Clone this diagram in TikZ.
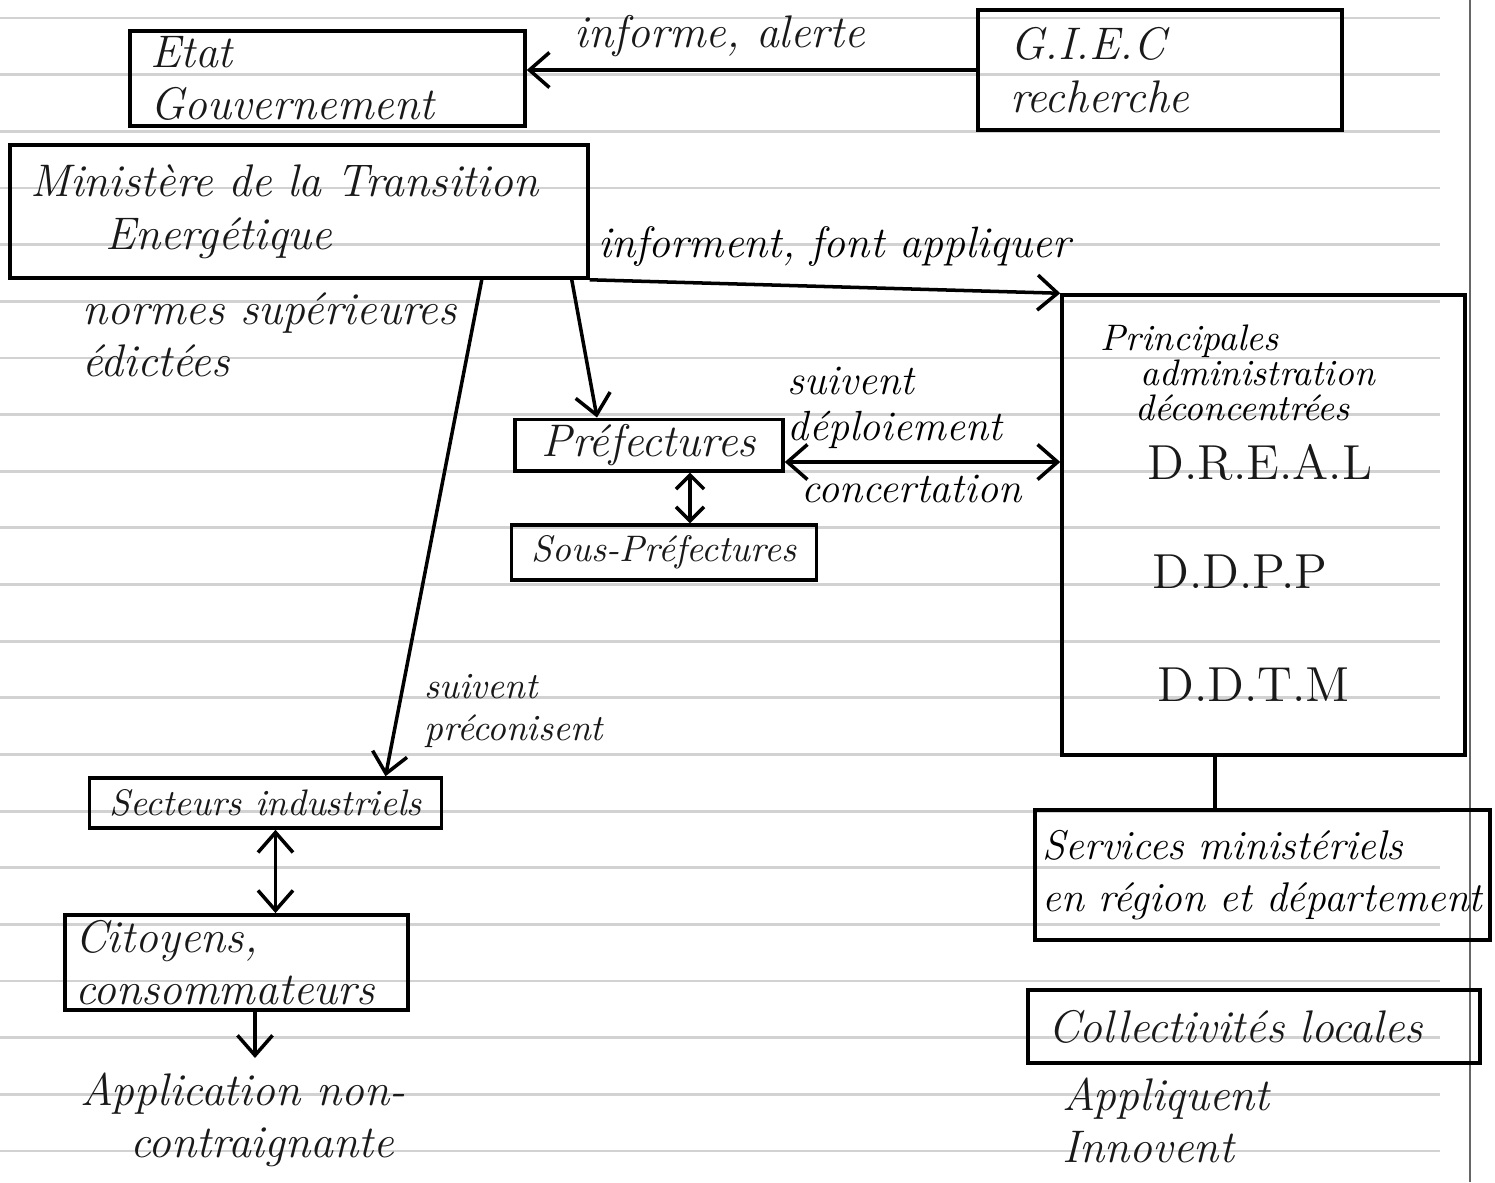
\documentclass[tikz,border=0pt]{standalone}
\usepackage{tikz}
\usetikzlibrary{arrows.meta,positioning}

\tikzset{
  box/.style={draw, line width=1pt, inner xsep=0.2cm, inner ysep=0.05cm, align=left},
  hand/.style={font=\itshape\fontsize{13}{15}\selectfont, text=black!90},
  small/.style={font=\itshape\fontsize{10.5}{12}\selectfont, text=black!90},
  big/.style={font=\fontsize{14}{16}\selectfont, text=black!90},
  arr/.style={line width=1pt, -{Straight Barb[length=2mm,width=3.5mm]}},
  darr/.style={line width=1pt, {Straight Barb[length=2mm,width=3.5mm]}-{Straight Barb[length=2mm,width=3.5mm]}},
  sdarr/.style={line width=1pt, {Straight Barb[length=1.4mm,width=2.8mm]}-{Straight Barb[length=1.4mm,width=2.8mm]}},
  plain/.style={line width=1pt},
  rule/.style={gray!35, line width=0.8pt}
}

\begin{document}
\begin{tikzpicture}
  \useasboundingbox (0,0) rectangle (14.95,-11.82);
  \fill[white] (0,0) rectangle (14.95,-11.82);
  % Ruled paper
  \foreach \k in {0,...,20} \draw[rule] (0,{-0.18-0.5665*\k}) -- (14.4,{-0.18-0.5665*\k});
  \draw[black!60, line width=0.5pt] (14.7,0) -- (14.7,-11.82);
  % Boxes
  \node[box, hand, text width=3.55cm, minimum height=0.93cm] (etat) at (3.275,-0.785) {Etat\\Gouvernement};
  \node[box, hand, text width=5.38cm, minimum height=1.33cm] (ministere) at (2.99,-2.115) {Ministère de la Transition\\\hspace*{0.75cm}Energétique};
  \node[box, hand, inner xsep=0.32cm, text width=3.0cm, minimum height=1.2cm] (giec) at (11.6,-0.70) {G.I.E.C\\recherche};
  \node[box, minimum width=4.03cm, minimum height=4.6cm] (deconc) at (12.635,-5.25) {};
  \node[box, hand, align=center, minimum width=2.68cm, minimum height=0.46cm] (pref) at (6.49,-4.45) {Préfectures};
  \node[box, small, align=center, minimum width=2.88cm, minimum height=0.55cm] (sous) at (6.64,-5.525) {Sous-Préfectures};
  \node[box, small, align=center, minimum width=3.05cm, minimum height=0.5cm] (secteurs) at (2.655,-8.03) {Secteurs industriels};
  \node[box, hand, inner xsep=0.1cm, text width=3.23cm, minimum height=0.95cm] (citoyens) at (2.365,-9.625) {Citoyens,\\consommateurs};
  \node[box, font=\itshape\fontsize{11.8}{15}\selectfont, inner xsep=0.05cm, minimum width=4.55cm, minimum height=1.3cm] (services) at (12.625,-8.75) {Services ministériels\\en région et département};
  \node[box, hand, text width=4.12cm, minimum height=0.73cm] (collectivites) at (12.54,-10.265) {Collectivités locales};
  % Texts
  \node[hand, align=left, anchor=north west] (normes) at (0.7,-2.8) {normes supérieures\\édictées};
  \node[font=\itshape\fontsize{10.5}{10}\selectfont, align=left, anchor=north west] (deconctitle) at (10.88,-3.12) {Principales\\\hspace*{0.4cm}administration\\\hspace*{0.35cm}déconcentrées};
  \node[big, anchor=west] (dreal) at (11.35,-4.62) {D.R.E.A.L};
  \node[big, anchor=west] (ddpp) at (11.4,-5.72) {D.D.P.P};
  \node[big, anchor=west] (ddtm) at (11.45,-6.85) {D.D.T.M};
  \node[small, align=left, anchor=north west] (preco) at (4.12,-6.62) {suivent\\préconisent};
  \node[hand, align=left, anchor=north west] (appli) at (0.68,-10.6) {Application non-\\\hspace*{0.5cm}contraignante};
  \node[hand, align=left, anchor=north west] (appliquent) at (10.5,-10.65) {Appliquent\\Innovent};
  \coordinate (appliarr) at (2.55,-10.58);
  % Connectors
  \draw[arr] (giec.west) -- (giec.west -| etat.east) node[pos=0.57, above, hand] {informe, alerte};
  \draw[arr] (ministere.south east) -- (deconc.north west) node[pos=0.52, above=2pt, font=\itshape\fontsize{12.5}{14}\selectfont] {informent, font appliquer};
  \draw[arr] ([xshift=-0.18cm]ministere.south east) -- ([xshift=-0.52cm]pref.north);
  \draw[arr] ([xshift=-1.08cm]ministere.south east) -- ([xshift=1.2cm]secteurs.north);
  \draw[sdarr] ([xshift=0.41cm]pref.south) -- ([xshift=0.41cm]pref.south |- sous.north);
  \draw[darr] ([yshift=-0.17cm]pref.east) -- ([yshift=-0.17cm]pref.east -| deconc.west)
    node[pos=0.4, above, font=\itshape\fontsize{12}{13}\selectfont, align=left] {suivent\\déploiement}
    node[pos=0.46, below, font=\itshape\fontsize{12}{13}\selectfont] {concertation};
  \draw[darr] ([xshift=0.1cm]secteurs.south) -- ([xshift=0.1cm]secteurs.south |- citoyens.north);
  \draw[arr] (citoyens.south -| appliarr) -- (appliarr);
  \draw[plain] ([xshift=-0.485cm]deconc.south) -- ([xshift=-0.485cm]deconc.south |- services.north);
\end{tikzpicture}
\end{document}
